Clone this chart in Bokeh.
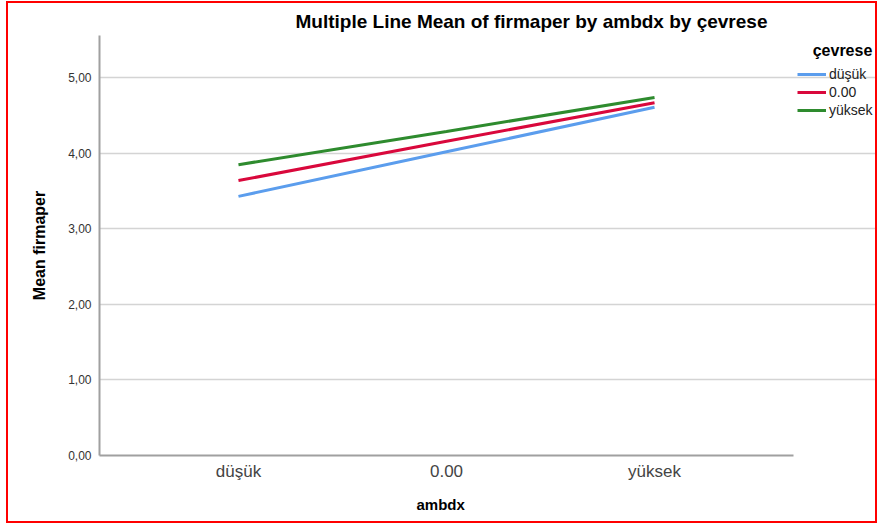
from bokeh.plotting import figure
from bokeh.models import (FixedTicker, CustomJSTickFormatter, Legend, LegendItem, Range1d,
                          Title, Label)
from bokeh.embed import file_html
from bokeh.resources import INLINE

# data
categories = ["düşük", "0.00", "yüksek"]
groups = ["düşük", "0.00", "yüksek"]
mean_dusuk = [3.43, 4.02, 4.61]
mean_000 = [3.64, 4.16, 4.67]
mean_yuksek = [3.85, 4.29, 4.74]
colors = ["#5b9ded", "#d9083c", "#2e8b2e"]
y_ticks = [0, 1, 2, 3, 4, 5]

W, H = 871, 522
ML, MR, MT, MB = 91, 1, 32, 70
plot_px = 694                      # width of the plotting area proper
x0, x1 = -0.668, 2.668             # visible category span
frame_px = W - ML - MR
x_end = x0 + (x1 - x0) * frame_px / plot_px

p = figure(width=W, height=H, output_backend="svg", toolbar_location=None,
           x_range=Range1d(x0, x_end), y_range=Range1d(0, 5.56),
           min_border_left=ML, min_border_right=MR, min_border_top=MT, min_border_bottom=MB)
p.styles = {"border": "2px solid #ff0000", "margin-left": "6px", "margin-top": "1px"}
p.outline_line_color = None
p.background_fill_color = "white"
p.border_fill_color = "white"

p.title.text = "Multiple Line Mean of firmaper by ambdx by çevrese"
p.title.align = "left"
p.title.offset = 196
p.title.standoff = 8
p.title.text_font = "Liberation Sans"
p.title.text_font_style = "bold"
p.title.text_font_size = "19px"
p.title.text_color = "#000000"

xs = list(range(len(categories)))
renderers = []
for vals, c in zip([mean_dusuk, mean_000, mean_yuksek], colors):
    r = p.line(xs, vals, line_color=c, line_width=3)
    renderers.append(r)

# axes
p.xaxis.ticker = FixedTicker(ticks=xs)
p.xaxis.bounds = (x0, x1)
p.xaxis.major_label_overrides = {i: c for i, c in enumerate(categories)}
p.yaxis.ticker = FixedTicker(ticks=y_ticks)
p.yaxis.formatter = CustomJSTickFormatter(code="return tick.toFixed(2).replace('.', ',');")
for ax in (p.xaxis, p.yaxis):
    ax.axis_line_color = "#a0a0a0"
    ax.axis_line_width = 2
    ax.major_tick_line_color = None
    ax.minor_tick_line_color = None
    ax.major_label_text_font = "Liberation Sans"
    ax.axis_label_text_font = "Liberation Sans"
    ax.axis_label_text_font_style = "bold"
    ax.axis_label_text_color = "#000000"
p.xaxis.major_label_text_font_size = "17px"
p.xaxis.major_label_text_color = "#444444"
p.xaxis.major_label_standoff = 0
p.yaxis.major_label_text_font_size = "12px"
p.yaxis.major_label_text_color = "#333333"
p.yaxis.major_label_standoff = 2
p.yaxis.axis_label = "Mean firmaper"
p.yaxis.axis_label_text_font_size = "16px"
p.yaxis.axis_label_standoff = 17

# x axis title centred under the plotting area (not the whole frame)
p.add_layout(Title(text="ambdx", align="left", offset=317, standoff=20,
                   text_font="Liberation Sans", text_font_style="bold",
                   text_font_size="15px", text_color="#000000"), "below")

p.xgrid.grid_line_color = None
p.ygrid.grid_line_color = "#d4d4d4"
p.ygrid.grid_line_width = 1.5
p.ygrid.bounds = (x0, x1)

# legend title
p.add_layout(Label(x=832, y=45, x_units="canvas", y_units="canvas", text="çevrese",
                   text_align="center", text_baseline="middle",
                   text_font="Liberation Sans", text_font_style="bold",
                   text_font_size="16px", text_color="#000000"))

legend = Legend(items=[LegendItem(label=g, renderers=[r]) for g, r in zip(groups, renderers)],
                location=(698, 336), orientation="vertical",
                glyph_width=29, glyph_height=18, label_height=18, label_standoff=3,
                spacing=0, padding=0, margin=0,
                border_line_color=None, background_fill_alpha=0,
                label_text_font="Liberation Sans", label_text_font_size="14px",
                label_text_color="#222222")
p.add_layout(legend, "center")

open("out.html", "w").write(file_html(p, INLINE))
